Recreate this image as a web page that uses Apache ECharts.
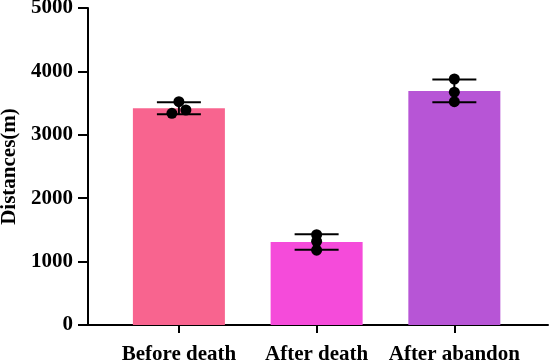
<!DOCTYPE html>
<html>
<head>
<meta charset="utf-8">
<script src="https://cdn.jsdelivr.net/npm/echarts@6/dist/echarts.min.js"></script>
<style>
  html, body { margin: 0; padding: 0; background: #fff; }
  #chart { width: 550px; height: 362px; }
</style>
</head>
<body>
<div id="chart"></div>
<script>
// groups on the x axis
const groups = ['Before death', 'After death', 'After abandon']
// bar heights (means) and SD
const means = [3418, 1308, 3692]
const sds = [94, 123, 180]
// single replicate points per group
const points = [
  [3522, 3339, 3391],
  [1425, 1320, 1180],
  [3880, 3672, 3522]
]
const barColors = ['#F8648F', '#F54BDA', '#B755D6']
const yTicks = [0, 1000, 2000, 3000, 4000, 5000]
// sideways jitter of the dots, pixels
const jitter = [[0, -7, 7], [0, 0, 0], [0, 0, 0]]

const font = 'Liberation Serif'
const chart = echarts.init(document.getElementById('chart'))

const barData = means.map((m, i) => ({
  value: [i, m],
  itemStyle: { color: barColors[i] }
}))
const errData = means.map((m, i) => [i, m - sds[i], m + sds[i]])
const dotData = []
points.forEach((arr, i) => {
  arr.forEach((v, j) => {
    dotData.push({ value: [i, v], symbolOffset: [jitter[i][j], 0] })
  })
})

const option = {
  animation: false,
  grid: { left: 88, right: 2, top: 8, bottom: 37, outerBoundsMode: 'none' },
  xAxis: {
    type: 'value',
    min: -0.66,
    max: 2.68,
    splitLine: { show: false },
    axisLine: { show: true, onZero: false, lineStyle: { color: '#000', width: 2 } },
    axisTick: { show: true, customValues: [0, 1, 2], length: 8, lineStyle: { color: '#000', width: 2 } },
    axisLabel: {
      customValues: [0, 1, 2],
      formatter: v => groups[Math.round(v)],
      color: '#000',
      fontFamily: font,
      fontWeight: 'bold',
      fontSize: 21,
      margin: 19
    }
  },
  yAxis: {
    type: 'value',
    min: yTicks[0],
    max: yTicks[yTicks.length - 1],
    interval: 1000,
    name: 'Distances(m)',
    nameLocation: 'middle',
    nameGap: 66,
    nameTextStyle: { color: '#000', fontFamily: font, fontWeight: 'bold', fontSize: 21 },
    splitLine: { show: false },
    axisLine: { show: true, onZero: false, lineStyle: { color: '#000', width: 2 } },
    axisTick: { show: true, length: 10, lineStyle: { color: '#000', width: 2 } },
    axisLabel: {
      formatter: v => String(v),
      color: '#000', fontFamily: font, fontWeight: 'bold', fontSize: 21, margin: 15
    }
  },
  series: [
    {
      type: 'bar',
      data: barData,
      barWidth: 92,
      z: 1
    },
    {
      type: 'custom',
      data: errData,
      z: 3,
      renderItem: function (params, api) {
        const x = api.value(0)
        const lo = api.coord([x, api.value(1)])
        const hi = api.coord([x, api.value(2)])
        const half = 22
        const style = { stroke: '#000', lineWidth: 2 }
        return {
          type: 'group',
          children: [
            { type: 'line', shape: { x1: lo[0], y1: lo[1], x2: hi[0], y2: hi[1] }, style: style },
            { type: 'line', shape: { x1: hi[0] - half, y1: hi[1], x2: hi[0] + half, y2: hi[1] }, style: style },
            { type: 'line', shape: { x1: lo[0] - half, y1: lo[1], x2: lo[0] + half, y2: lo[1] }, style: style }
          ]
        }
      }
    },
    {
      type: 'scatter',
      data: dotData,
      symbolSize: 11,
      itemStyle: { color: '#000', opacity: 1 },
      z: 4
    }
  ]
}
chart.setOption(option)
</script>
</body>
</html>
